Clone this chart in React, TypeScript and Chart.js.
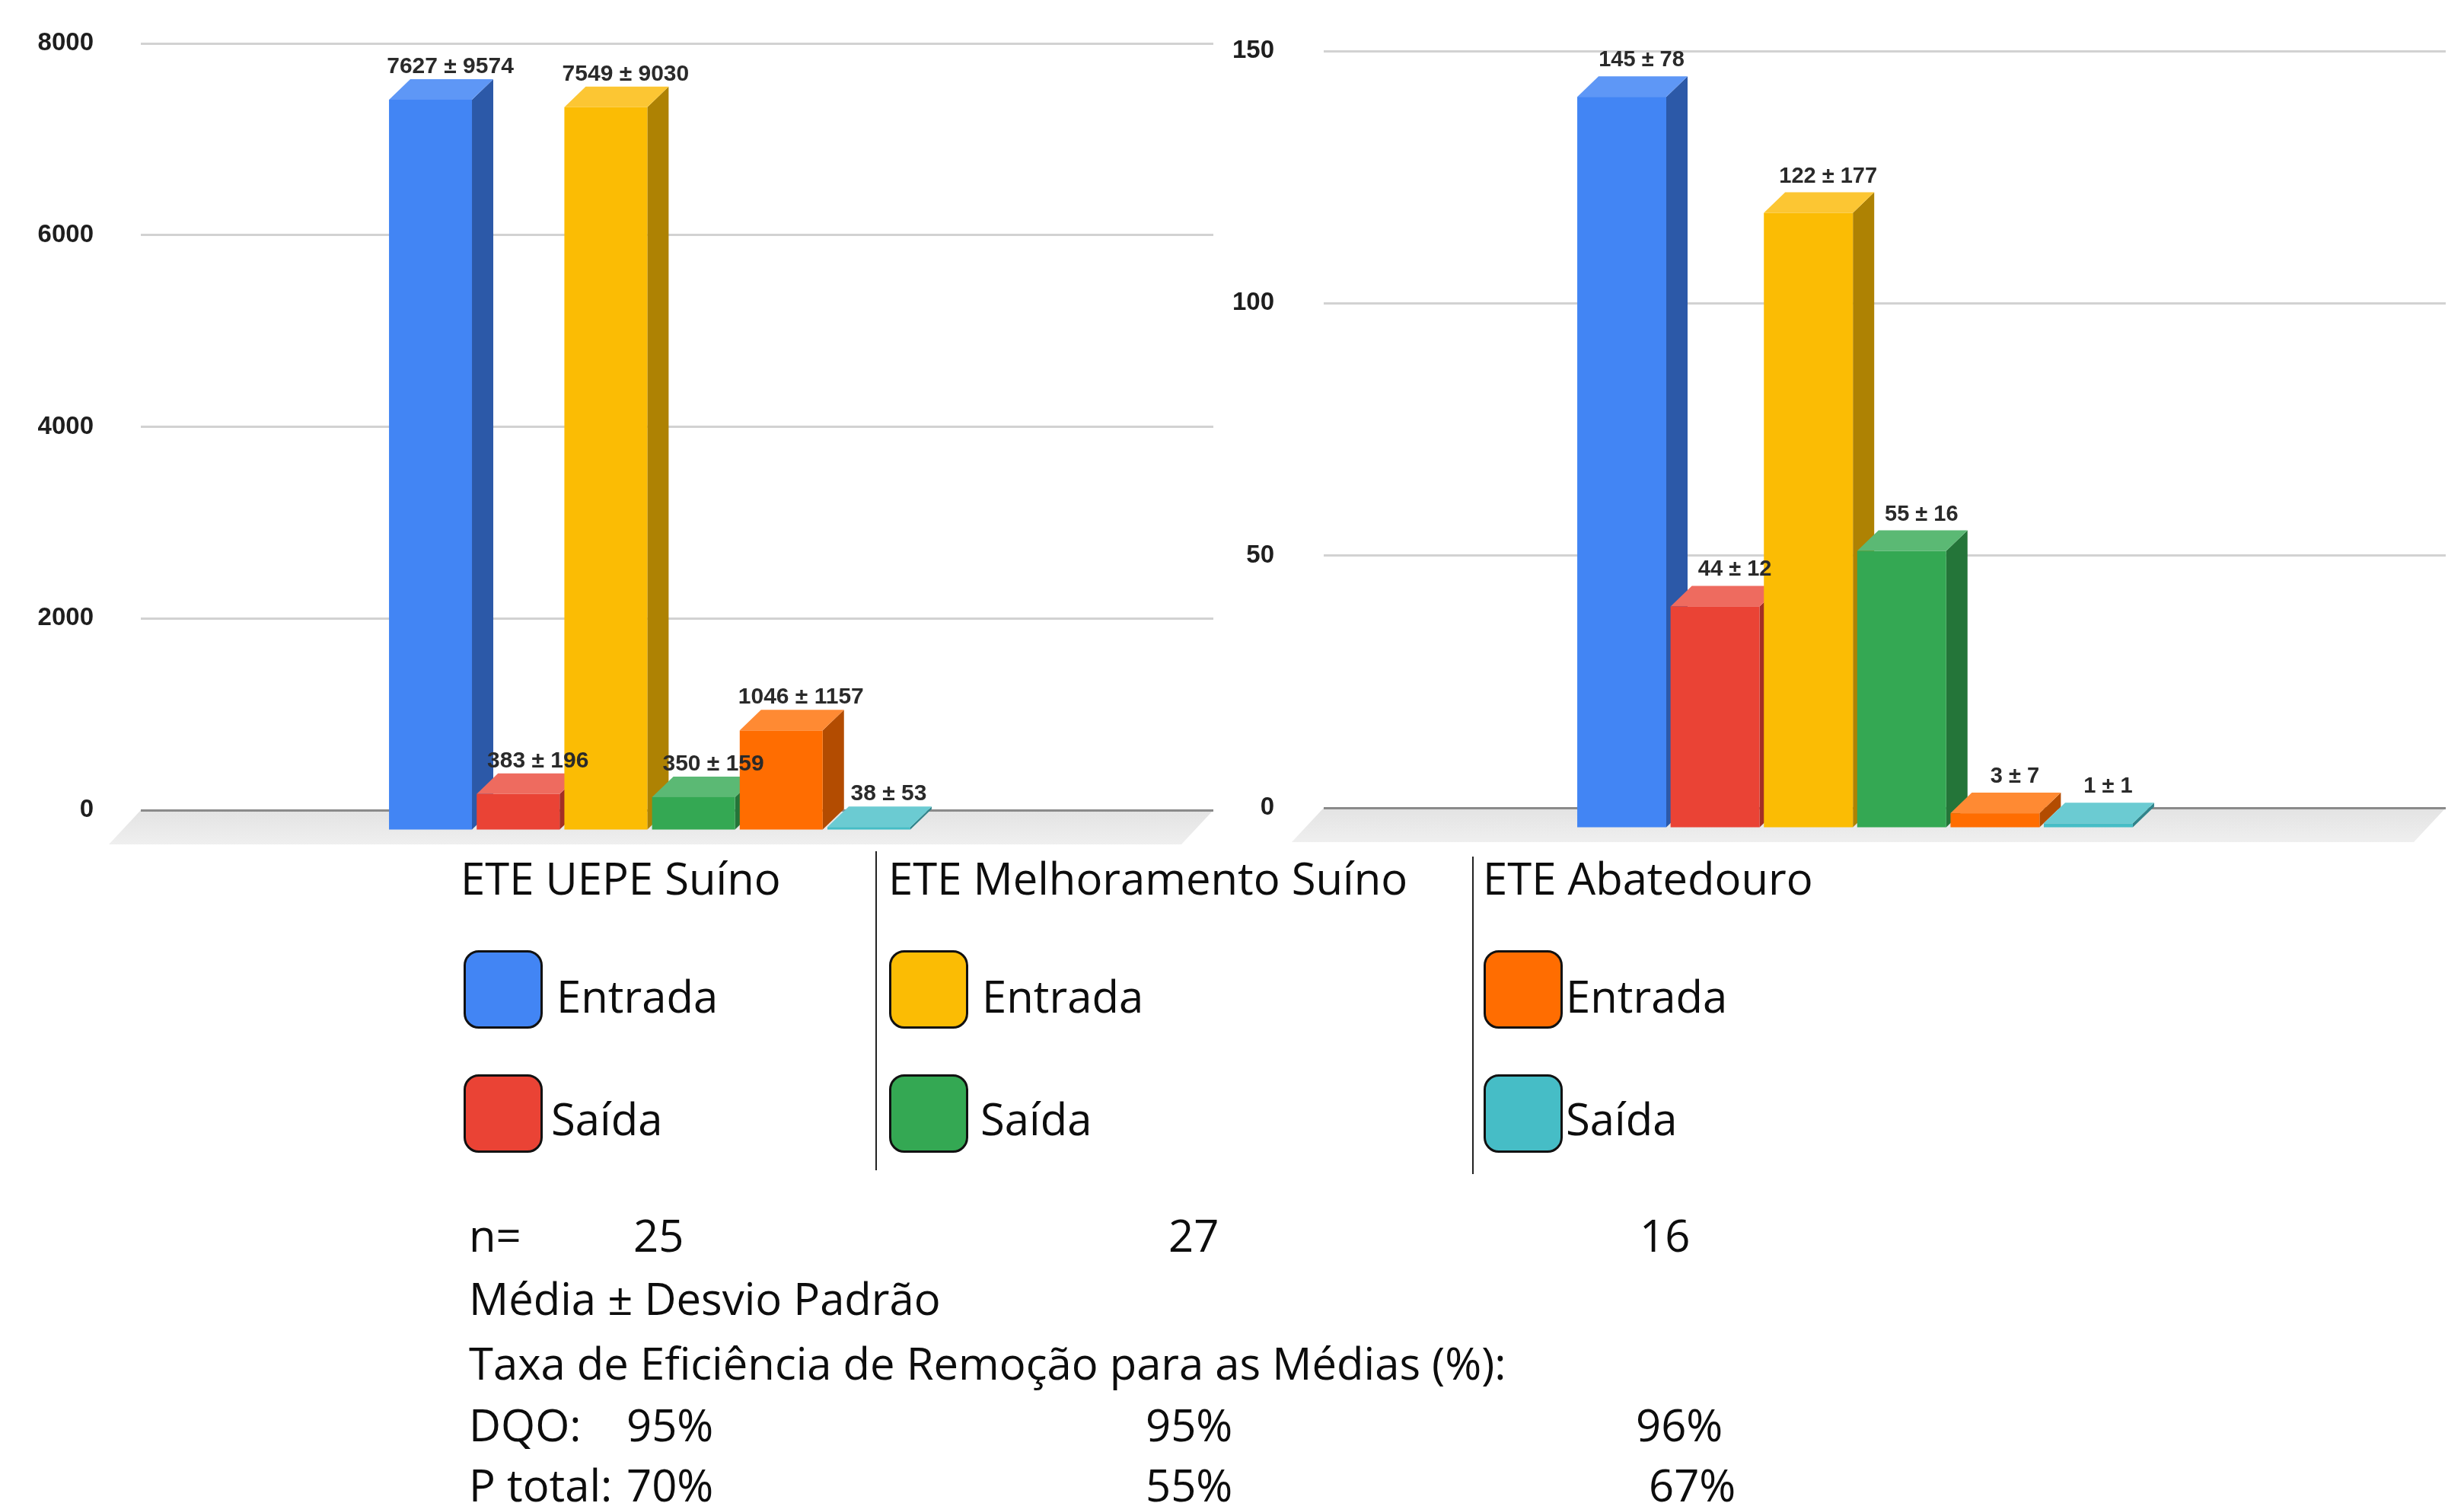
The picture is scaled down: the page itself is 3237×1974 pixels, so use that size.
import React, { useEffect, useRef } from 'react';
import { Chart, registerables } from 'chart.js';

Chart.register(...registerables);

// ---------- DATA ----------
const seriesLabels = [
  'ETE UEPE Suíno – Entrada',
  'ETE UEPE Suíno – Saída',
  'ETE Melhoramento Suíno – Entrada',
  'ETE Melhoramento Suíno – Saída',
  'ETE Abatedouro – Entrada',
  'ETE Abatedouro – Saída',
];
const dqoCategories = ['DQO'];
const dqoMeans = [7627, 383, 7549, 350, 1046, 38];
const dqoSDs = [9574, 196, 9030, 159, 1157, 53];
const dqoAxisMax = 8000;
const dqoAxisStep = 2000;

const pCategories = ['P total'];
const pMeans = [145, 44, 122, 55, 3, 1];
const pSDs = [78, 12, 177, 16, 7, 1];
const pAxisMax = 150;
const pAxisStep = 50;

const stations = ['ETE UEPE Suíno', 'ETE Melhoramento Suíno', 'ETE Abatedouro'];
const legendEntries = ['Entrada', 'Saída'];
const nValues = ['25', '27', '16'];
const dqoEfficiency = ['95%', '95%', '96%'];
const pEfficiency = ['70%', '55%', '67%'];

// ---------- STYLE ----------
const frontColors = ['#4285F4', '#EA4335', '#FBBC04', '#34A853', '#FF6D01', '#46BDC6'];
const topColors = ['#5E97F6', '#EE6B5F', '#FCC633', '#5BB974', '#FF8A33', '#6BCBD2'];
const sideColors = ['#2C59A8', '#A32F25', '#AE8203', '#247539', '#B34C01', '#31848B'];

const TEXT_FONT = '"Open Sans", "Noto Sans", sans-serif';

type Cfg = {
  sds: number[];
  dx: number;
  dy: number;
  viewShift: number;
  floorX: number;
  floorY: number;
  labelGap: number;
  labelSize: number;
};

function bar3DPlugin(cfg: Cfg) {
  return {
    id: 'bar3d',
    beforeDraw(chart: any) {
      const { ctx, chartArea } = chart;
      const y0 = chart.scales.y.getPixelForValue(0);
      ctx.save();
      const g = ctx.createLinearGradient(0, y0, 0, y0 + cfg.floorY);
      g.addColorStop(0, '#e3e3e3');
      g.addColorStop(1, '#efefef');
      ctx.fillStyle = g;
      ctx.beginPath();
      ctx.moveTo(chartArea.left, y0);
      ctx.lineTo(chartArea.right, y0);
      ctx.lineTo(chartArea.right - cfg.floorX, y0 + cfg.floorY);
      ctx.lineTo(chartArea.left - cfg.floorX, y0 + cfg.floorY);
      ctx.closePath();
      ctx.fill();
      ctx.restore();
    },
    beforeDatasetDraw() {
      return false;
    },
    afterDatasetsDraw(chart: any) {
      const ctx = chart.ctx;
      const bars = chart.data.datasets.map((ds: any, i: number) => {
        const el = chart.getDatasetMeta(i).data[0];
        const p = el.getProps(['x', 'y', 'base', 'width'], true);
        return { x: p.x - cfg.viewShift, y: p.y, base: p.base, width: p.width, i, value: ds.data[0] };
      });
      const { dx, dy } = cfg;
      ctx.save();
      // side and top faces
      bars.forEach((b: any) => {
        const L = b.x - b.width / 2;
        const R = b.x + b.width / 2;
        const T = b.y;
        const B = b.base;
        ctx.fillStyle = sideColors[b.i];
        ctx.beginPath();
        ctx.moveTo(R - dx, T + dy);
        ctx.lineTo(R, T);
        ctx.lineTo(R, B);
        ctx.lineTo(R - dx, B + dy);
        ctx.closePath();
        ctx.fill();
        ctx.fillStyle = topColors[b.i];
        ctx.beginPath();
        ctx.moveTo(L - dx, T + dy);
        ctx.lineTo(L, T);
        ctx.lineTo(R, T);
        ctx.lineTo(R - dx, T + dy);
        ctx.closePath();
        ctx.fill();
      });
      // front faces
      bars.forEach((b: any) => {
        const L = b.x - b.width / 2;
        ctx.fillStyle = frontColors[b.i];
        ctx.fillRect(L - dx, b.y + dy, b.width, b.base - b.y);
      });
      // value labels
      ctx.font = `bold ${cfg.labelSize}px "Liberation Sans", Arial, sans-serif`;
      ctx.fillStyle = '#2a2a2a';
      ctx.textAlign = 'center';
      ctx.textBaseline = 'alphabetic';
      bars.forEach((b: any) => {
        ctx.fillText(`${b.value} ± ${cfg.sds[b.i]}`, b.x - 2, b.y - cfg.labelGap);
      });
      ctx.restore();
    },
  };
}

function makeChart(
  canvas: HTMLCanvasElement,
  labels: string[],
  means: number[],
  sds: number[],
  max: number,
  step: number,
  opts: {
    padRight: number;
    padTop: number;
    padBottom: number;
    axisWidth: number;
    tickGap: number;
    catPct: number;
    barPct: number;
    labelGap: number;
    labelSize: number;
    viewShift: number;
  }
) {
  return new Chart(canvas, {
    type: 'bar',
    data: {
      labels,
      datasets: means.map((v, i) => ({
        label: seriesLabels[i],
        data: [v],
        backgroundColor: frontColors[i],
        borderWidth: 0,
        categoryPercentage: opts.catPct,
        barPercentage: opts.barPct,
      })),
    },
    options: {
      responsive: false,
      animation: false,
      devicePixelRatio: 1,
      layout: {
        padding: { left: 0, right: opts.padRight, top: opts.padTop, bottom: opts.padBottom },
      },
      plugins: {
        legend: { display: false },
        tooltip: { enabled: false },
        title: { display: false },
      },
      scales: {
        x: { display: false, grid: { display: false } },
        y: {
          min: 0,
          max,
          border: { display: false },
          grid: {
            drawTicks: true,
            tickLength: opts.tickGap,
            tickColor: 'rgba(0,0,0,0)',
            lineWidth: 3,
            color: (c: any) => (c.tick && c.tick.value === 0 ? '#8a8a8a' : '#d2d2d2'),
          },
          ticks: {
            stepSize: step,
            padding: 0,
            color: '#1e1e1e',
            font: { family: '"Liberation Sans", Arial, sans-serif', weight: 'bold', size: 33 },
            callback: (v: any) => String(v),
          },
          afterFit: (s: any) => {
            s.width = opts.axisWidth;
          },
        },
      },
    } as any,
    plugins: [
      bar3DPlugin({
        sds,
        dx: 28,
        dy: 27,
        viewShift: opts.viewShift,
        floorX: 42,
        floorY: 45,
        labelGap: opts.labelGap,
        labelSize: opts.labelSize,
      }) as any,
    ],
  });
}

const abs = (x: number, y: number, extra: React.CSSProperties = {}): React.CSSProperties => ({
  position: 'absolute',
  left: x,
  top: y,
  transform: 'translateY(-50%)',
  fontFamily: TEXT_FONT,
  fontSize: 58,
  lineHeight: 1,
  whiteSpace: 'nowrap',
  color: '#0d0d0d',
  ...extra,
});

export default function App() {
  const leftRef = useRef<HTMLCanvasElement>(null);
  const rightRef = useRef<HTMLCanvasElement>(null);

  useEffect(() => {
    const c1 = makeChart(leftRef.current!, dqoCategories, dqoMeans, dqoSDs, dqoAxisMax, dqoAxisStep, {
      padRight: 1640 - 1594,
      padTop: 57,
      padBottom: 1130 - 1064,
      axisWidth: 185,
      tickGap: 62,
      catPct: 0.4905,
      barPct: 0.946,
      labelGap: 8,
      labelSize: 30,
      viewShift: 8,
    });
    const c2 = makeChart(rightRef.current!, pCategories, pMeans, pSDs, pAxisMax, pAxisStep, {
      padRight: 1637 - 1613,
      padTop: 67,
      padBottom: 1130 - 1061,
      axisWidth: 139,
      tickGap: 65,
      catPct: 0.499,
      barPct: 0.954,
      labelGap: 13,
      labelSize: 29,
      viewShift: 11,
    });
    return () => {
      c1.destroy();
      c2.destroy();
    };
  }, []);

  const colX = [609, 1168, 1949];
  const titleX = [609, 1171, 1952];
  const labelX = [
    [735, 728],
    [1294, 1292],
    [2061, 2061],
  ];
  const rowY = [1248, 1411];
  const rowLabelY = [1308, 1469];

  return (
    <div
      style={{
        position: 'absolute',
        left: 0,
        top: 0,
        width: 3237,
        height: 1974,
        background: '#ffffff',
        overflow: 'hidden',
      }}
    >
      <canvas ref={leftRef} width={1640} height={1130} style={{ position: 'absolute', left: 0, top: 0 }} />
      <canvas ref={rightRef} width={1637} height={1130} style={{ position: 'absolute', left: 1600, top: 0 }} />

      {/* group titles */}
      {stations.map((s, i) => (
        <div key={'t' + i} style={abs(titleX[i] - 4, 1153)}>
          {s}
        </div>
      ))}

      {/* separators */}
      <div style={{ position: 'absolute', left: 1150, top: 1118, width: 2, height: 419, background: '#222' }} />
      <div style={{ position: 'absolute', left: 1934, top: 1125, width: 2, height: 417, background: '#222' }} />

      {/* legend swatches */}
      {stations.map((_, g) =>
        legendEntries.map((e, r) => (
          <React.Fragment key={`l${g}${r}`}>
            <div
              style={{
                position: 'absolute',
                left: colX[g],
                top: rowY[r],
                width: 104,
                height: 103,
                boxSizing: 'border-box',
                border: '3px solid #111',
                borderRadius: 20,
                background: frontColors[g * 2 + r],
              }}
            />
            <div style={abs(labelX[g][r] - 4, rowLabelY[r])}>{e}</div>
          </React.Fragment>
        ))
      )}

      {/* summary text */}
      <div style={abs(616, 1622)}>n=</div>
      {nValues.map((n, i) => (
        <div key={'n' + i} style={abs([832, 1535, 2154][i], 1622)}>
          {n}
        </div>
      ))}
      <div style={abs(616, 1705)}>Média ± Desvio Padrão</div>
      <div style={abs(616, 1790)}>Taxa de Eficiência de Remoção para as Médias (%):</div>
      <div style={abs(616, 1871)}>DQO:</div>
      {dqoEfficiency.map((v, i) => (
        <div key={'d' + i} style={abs([823, 1505, 2149][i], 1871)}>
          {v}
        </div>
      ))}
      <div style={abs(616, 1950)}>P total:</div>
      {pEfficiency.map((v, i) => (
        <div key={'p' + i} style={abs([823, 1505, 2166][i], 1950)}>
          {v}
        </div>
      ))}
    </div>
  );
}
